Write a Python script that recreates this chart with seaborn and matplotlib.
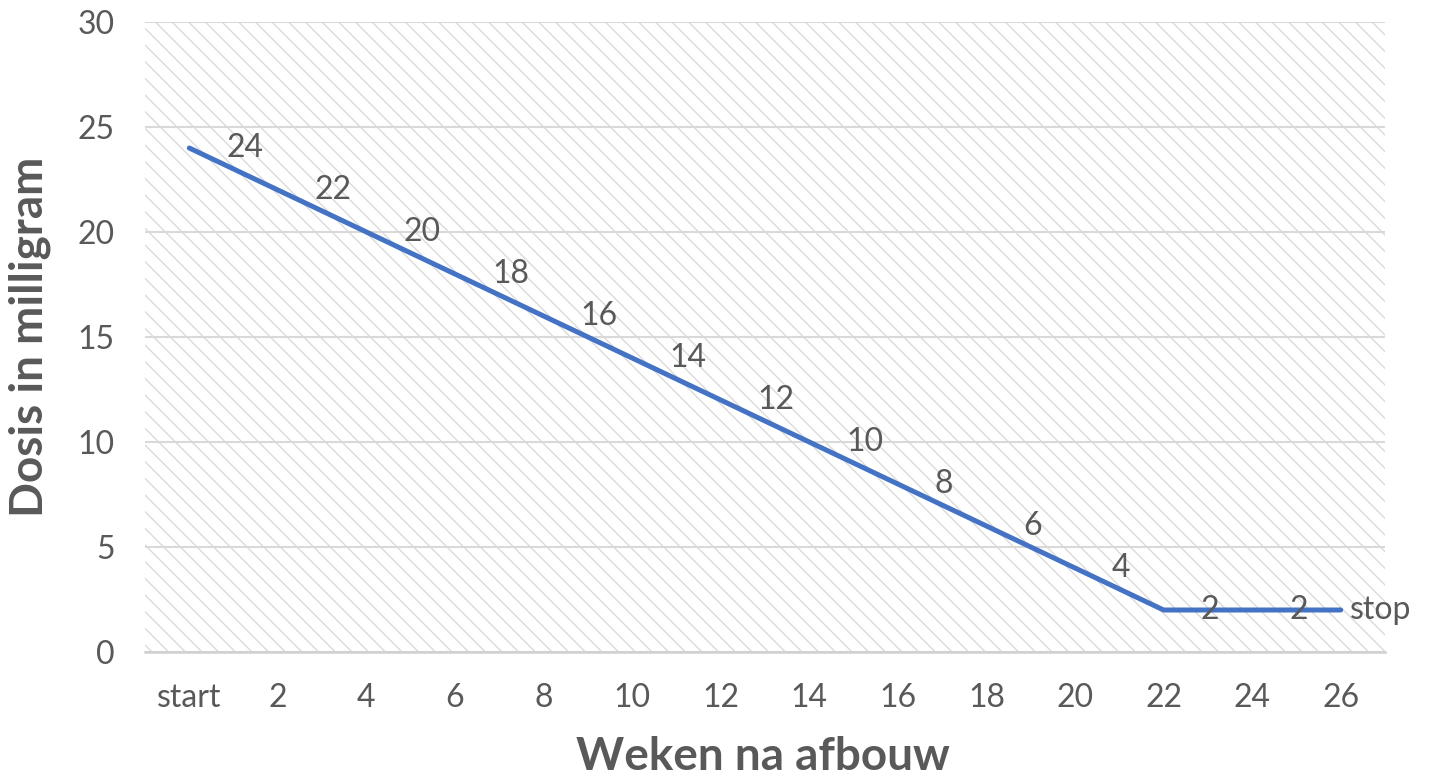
import matplotlib
matplotlib.use("Agg")
import matplotlib.pyplot as plt
import seaborn as sns
import pandas as pd
from matplotlib.patches import Rectangle

# ---- data ----
weeks = ["start", "2", "4", "6", "8", "10", "12", "14", "16", "18", "20", "22", "24", "26"]
dose = [24, 22, 20, 18, 16, 14, 12, 10, 8, 6, 4, 2, 2, 2]
point_labels = ["24", "22", "20", "18", "16", "14", "12", "10", "8", "6", "4", "2", "2", "stop"]
y_ticks = [0, 5, 10, 15, 20, 25, 30]

sns.set_theme(style="white")
plt.rcParams["font.family"] = ["Lato", "DejaVu Sans"]
plt.rcParams["hatch.linewidth"] = 1.0

TXT = "#595959"
fig = plt.figure(figsize=(14.35, 7.8), dpi=100)
ax = fig.add_axes([145 / 1435, 128 / 780, 1240 / 1435, 630 / 780])

# hatched plot-area background
ax.add_patch(Rectangle((0, 0), 1, 1, transform=ax.transAxes, facecolor="white",
                       edgecolor="#dadada", hatch="\\\\", lw=0, zorder=0))

df = pd.DataFrame({"week": weeks, "dose": dose})
sns.lineplot(data=df, x="week", y="dose", sort=False, ax=ax, color="#4472C4",
             linewidth=3.6, zorder=3, solid_capstyle="round")

ax.set_xlim(-0.5, len(weeks) - 0.5)
ax.set_ylim(0, 30)
ax.set_yticks(y_ticks)
ax.yaxis.grid(True, color="#d9d9d9", linewidth=1.5, zorder=1)
ax.xaxis.grid(False)
ax.set_axisbelow(True)
for s in ["top", "right", "left"]:
    ax.spines[s].set_visible(False)
ax.spines["bottom"].set_color("#d0d0d0")
ax.spines["bottom"].set_linewidth(1.8)
ax.spines["bottom"].set_zorder(2)

ax.tick_params(axis="both", length=0, labelsize=23, labelcolor=TXT)
ax.tick_params(axis="y", pad=22)
ax.tick_params(axis="x", pad=22)

for i, (v, lab) in enumerate(zip(dose, point_labels)):
    off = 9 if lab == "stop" else 37
    ax.annotate(lab, (i, v), xytext=(off, 0), textcoords="offset pixels",
                ha="left", va="center", fontsize=23, color=TXT, zorder=4)

ax.set_xlabel("")
ax.set_ylabel("")
fig.text(763 / 1435, 1 - 757 / 780, "Weken na afbouw", fontsize=33, fontweight="bold",
         color=TXT, ha="center", va="center")
fig.text(30 / 1435, 1 - 337 / 780, "Dosis in milligram", fontsize=33, fontweight="bold",
         color=TXT, ha="center", va="center", rotation=90)

fig.savefig("out.png", dpi=100)
